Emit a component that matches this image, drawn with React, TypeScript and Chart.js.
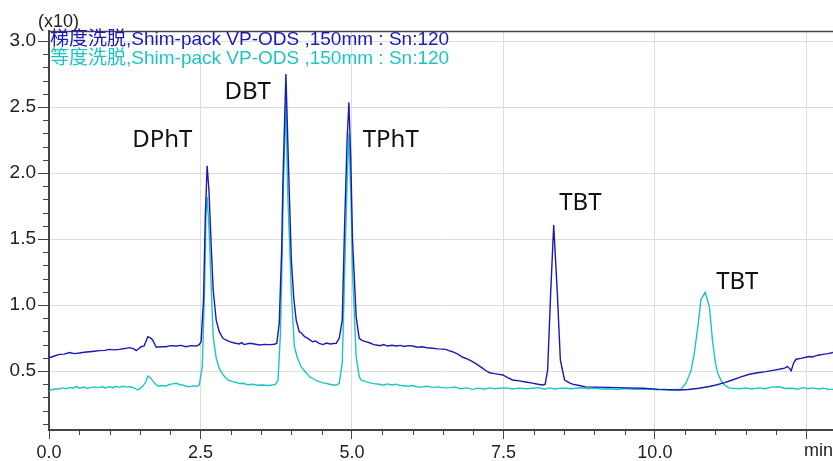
import React, { useEffect, useRef } from 'react';
import { Chart, registerables } from 'chart.js';

Chart.register(...registerables);

// Gradient elution (blue) trace: time (min) and signal (x10)
const gradientTimes = [
  0.00, 0.08, 0.17, 0.25, 0.34, 0.42, 0.50, 0.58, 0.67, 0.75, 0.83, 0.92, 1.00, 1.08, 1.16, 1.25, 1.33, 1.40, 1.44, 1.48,
  1.52, 1.57, 1.63, 1.68, 1.71, 1.77, 1.85, 1.93, 2.01, 2.10, 2.18, 2.26, 2.35, 2.43, 2.48, 2.51, 2.55, 2.58, 2.61, 2.64,
  2.68, 2.71, 2.76, 2.81, 2.87, 2.92, 2.98, 3.06, 3.14, 3.18, 3.22, 3.31, 3.39, 3.47, 3.56, 3.64, 3.72, 3.76, 3.80, 3.84,
  3.86, 3.91, 3.95, 4.00, 4.04, 4.08, 4.13, 4.16, 4.22, 4.28, 4.35, 4.40, 4.46, 4.52, 4.58, 4.64, 4.70, 4.74, 4.79, 4.84,
  4.88, 4.92, 4.95, 4.98, 5.01, 5.07, 5.12, 5.17, 5.23, 5.30, 5.36, 5.40, 5.47, 5.52, 5.59, 5.66, 5.73, 5.80, 5.86, 5.93,
  6.00, 6.08, 6.16, 6.24, 6.33, 6.42, 6.50, 6.55, 6.60, 6.66, 6.74, 6.83, 6.91, 6.99, 7.07, 7.16, 7.22, 7.27, 7.35, 7.43,
  7.49, 7.57, 7.65, 7.76, 7.87, 7.98, 8.07, 8.15, 8.19, 8.23, 8.28, 8.33, 8.39, 8.44, 8.51, 8.59, 8.64, 8.75, 8.86, 9.00,
  9.25, 9.50, 9.80, 10.07, 10.25, 10.40, 10.55, 10.73, 10.90, 11.01, 11.15, 11.28, 11.42, 11.56, 11.70, 11.83, 11.95, 12.05, 12.14, 12.19,
  12.22, 12.25, 12.29, 12.33, 12.41, 12.49, 12.55, 12.60, 12.65, 12.71, 12.80, 12.86, 12.94,
];
const gradientValues = [
  0.600, 0.612, 0.626, 0.628, 0.640, 0.632, 0.636, 0.642, 0.646, 0.650, 0.654, 0.656, 0.664, 0.660, 0.664, 0.670, 0.677, 0.668, 0.654, 0.668,
  0.684, 0.690, 0.760, 0.750, 0.735, 0.680, 0.684, 0.684, 0.692, 0.689, 0.694, 0.684, 0.692, 0.689, 0.700, 0.722, 1.040, 1.670, 2.055, 1.870,
  1.417, 1.114, 0.886, 0.798, 0.748, 0.735, 0.722, 0.712, 0.705, 0.715, 0.700, 0.710, 0.705, 0.697, 0.702, 0.700, 0.703, 0.710, 0.861, 1.417,
  1.920, 2.750, 2.100, 1.340, 1.050, 0.886, 0.798, 0.790, 0.760, 0.745, 0.722, 0.728, 0.710, 0.700, 0.712, 0.705, 0.708, 0.710, 0.748, 0.886,
  1.620, 2.250, 2.535, 2.120, 1.490, 0.910, 0.748, 0.730, 0.722, 0.712, 0.700, 0.697, 0.692, 0.700, 0.689, 0.695, 0.689, 0.694, 0.686, 0.692,
  0.689, 0.680, 0.684, 0.676, 0.672, 0.668, 0.666, 0.664, 0.655, 0.646, 0.630, 0.604, 0.590, 0.571, 0.548, 0.520, 0.500, 0.487, 0.480, 0.474,
  0.470, 0.450, 0.432, 0.425, 0.417, 0.408, 0.400, 0.394, 0.400, 0.508, 1.090, 1.606, 1.090, 0.583, 0.432, 0.410, 0.400, 0.390, 0.380, 0.378,
  0.376, 0.372, 0.369, 0.361, 0.358, 0.356, 0.360, 0.369, 0.383, 0.394, 0.412, 0.432, 0.455, 0.475, 0.487, 0.495, 0.505, 0.513, 0.522, 0.533,
  0.520, 0.502, 0.560, 0.589, 0.596, 0.604, 0.610, 0.606, 0.615, 0.621, 0.628, 0.632, 0.640,
];

// Isocratic elution (cyan) trace
const isocraticTimes = [
  0.00, 0.05, 0.10, 0.17, 0.22, 0.28, 0.34, 0.40, 0.45, 0.50, 0.58, 0.63, 0.67, 0.75, 0.83, 0.88, 0.92, 1.00, 1.05, 1.10,
  1.16, 1.22, 1.28, 1.33, 1.40, 1.47, 1.51, 1.55, 1.60, 1.63, 1.67, 1.71, 1.76, 1.80, 1.86, 1.93, 1.98, 2.04, 2.10, 2.16,
  2.22, 2.26, 2.32, 2.38, 2.43, 2.48, 2.53, 2.57, 2.59, 2.61, 2.64, 2.68, 2.71, 2.76, 2.81, 2.86, 2.90, 2.96, 3.03, 3.08,
  3.14, 3.20, 3.28, 3.36, 3.44, 3.53, 3.61, 3.69, 3.74, 3.78, 3.82, 3.85, 3.87, 3.91, 3.94, 4.00, 4.05, 4.10, 4.16, 4.22,
  4.30, 4.35, 4.40, 4.46, 4.52, 4.57, 4.63, 4.68, 4.74, 4.79, 4.84, 4.88, 4.92, 4.95, 4.98, 5.01, 5.07, 5.12, 5.15, 5.23,
  5.30, 5.36, 5.45, 5.52, 5.58, 5.66, 5.72, 5.78, 5.86, 5.93, 6.00, 6.06, 6.15, 6.24, 6.33, 6.42, 6.52, 6.61, 6.70, 6.80,
  6.90, 6.99, 7.08, 7.18, 7.28, 7.36, 7.43, 7.55, 7.65, 7.76, 7.87, 7.98, 8.08, 8.18, 8.26, 8.35, 8.45, 8.53, 8.62, 8.70,
  8.80, 8.90, 9.00, 9.12, 9.25, 9.38, 9.50, 9.65, 9.80, 9.92, 10.05, 10.15, 10.24, 10.33, 10.43, 10.51, 10.56, 10.60, 10.65, 10.71,
  10.76, 10.83, 10.90, 10.95, 11.00, 11.04, 11.10, 11.15, 11.22, 11.28, 11.40, 11.50, 11.60, 11.72, 11.82, 11.92, 12.05, 12.15, 12.27, 12.36,
  12.45, 12.52, 12.60, 12.70, 12.78, 12.86, 12.94,
];
const isocraticValues = [
  0.345, 0.360, 0.364, 0.364, 0.372, 0.366, 0.374, 0.370, 0.384, 0.370, 0.378, 0.368, 0.372, 0.380, 0.374, 0.382, 0.372, 0.381, 0.372, 0.384,
  0.376, 0.384, 0.378, 0.382, 0.372, 0.356, 0.372, 0.386, 0.420, 0.462, 0.450, 0.427, 0.400, 0.386, 0.390, 0.386, 0.396, 0.402, 0.407, 0.396,
  0.392, 0.386, 0.380, 0.388, 0.382, 0.394, 0.533, 1.160, 1.670, 1.820, 1.590, 1.110, 0.760, 0.596, 0.520, 0.480, 0.457, 0.430, 0.419, 0.415,
  0.405, 0.407, 0.396, 0.400, 0.392, 0.394, 0.390, 0.394, 0.400, 0.432, 0.785, 1.417, 1.920, 2.530, 1.846, 1.090, 0.684, 0.600, 0.533, 0.500,
  0.457, 0.445, 0.430, 0.419, 0.410, 0.407, 0.400, 0.394, 0.394, 0.407, 0.558, 1.240, 1.920, 2.300, 1.870, 1.240, 0.608, 0.457, 0.432, 0.419,
  0.410, 0.404, 0.400, 0.392, 0.402, 0.394, 0.400, 0.392, 0.388, 0.384, 0.390, 0.381, 0.378, 0.384, 0.376, 0.380, 0.372, 0.374, 0.378, 0.366,
  0.372, 0.361, 0.370, 0.364, 0.372, 0.366, 0.369, 0.372, 0.364, 0.370, 0.366, 0.369, 0.374, 0.362, 0.372, 0.364, 0.370, 0.369, 0.366, 0.369,
  0.373, 0.366, 0.370, 0.364, 0.366, 0.360, 0.367, 0.362, 0.361, 0.364, 0.358, 0.362, 0.356, 0.360, 0.361, 0.407, 0.460, 0.508, 0.634, 0.836,
  1.040, 1.096, 0.987, 0.735, 0.560, 0.480, 0.420, 0.394, 0.372, 0.369, 0.366, 0.372, 0.364, 0.372, 0.366, 0.378, 0.381, 0.368, 0.369, 0.362,
  0.374, 0.366, 0.372, 0.364, 0.370, 0.362, 0.361,
];

const seriesNames = [
  '梯度洗脱,Shim-pack VP-ODS ,150mm : Sn:120',
  '等度洗脱,Shim-pack VP-ODS ,150mm : Sn:120',
];

const xTickValues = [0, 2.5, 5.0, 7.5, 10.0, 12.5];
const yTickValues = [0.5, 1.0, 1.5, 2.0, 2.5, 3.0];

const peakLabels = ['DPhT', 'DBT', 'TPhT', 'TBT', 'TBT'];
const peakLabelTimes = [1.87, 3.28, 5.64, 8.77, 11.36];
const peakLabelValues = [2.25, 2.61, 2.25, 1.77, 1.17];

const X_MIN = 0;
const X_MAX = 12.94;
const Y_MIN = 0.053;
const Y_MAX = 3.076;

const BLUE = '#1a1ab4';
const CYAN = '#1ec4c4';
const AXIS = '#444444';
const GRID = '#dddddd';
const FONT = '"Liberation Sans", "Noto Sans CJK SC", sans-serif';
const LABEL_FONT = '"Noto Sans", "Open Sans", sans-serif';

const decorPlugin = {
  id: 'decor',
  afterDatasetsDraw(chart: any) {
    const { ctx, chartArea, scales } = chart;
    const xs = scales.x;
    const ys = scales.y;
    ctx.save();
    // minor ticks
    ctx.strokeStyle = AXIS;
    ctx.lineWidth = 1;
    ctx.beginPath();
    for (let i = 1; i <= 30; i++) {
      const v = i / 10;
      if (i % 5 === 0) continue;
      const py = Math.round(ys.getPixelForValue(v)) + 0.5;
      ctx.moveTo(chartArea.left - 6, py);
      ctx.lineTo(chartArea.left, py);
    }
    for (let i = 1; i <= 25; i++) {
      const v = i / 2;
      if (i % 5 === 0) continue;
      const px = Math.round(xs.getPixelForValue(v)) + 0.5;
      ctx.moveTo(px, chartArea.bottom);
      ctx.lineTo(px, chartArea.bottom + 5);
    }
    ctx.stroke();
    // top border
    ctx.beginPath();
    ctx.lineWidth = 1.5;
    ctx.moveTo(chartArea.left, chartArea.top + 0.5);
    ctx.lineTo(chartArea.right, chartArea.top + 0.5);
    ctx.stroke();

    // legend text
    ctx.font = `19px ${FONT}`;
    ctx.textAlign = 'left';
    ctx.textBaseline = 'middle';
    ctx.fillStyle = BLUE;
    ctx.fillText(seriesNames[0], chartArea.left + 1, 40);
    ctx.fillStyle = CYAN;
    ctx.fillText(seriesNames[1], chartArea.left + 1, 58.5);

    // peak labels
    ctx.font = `24px ${LABEL_FONT}`;
    ctx.fillStyle = '#111111';
    ctx.textAlign = 'center';
    for (let i = 0; i < peakLabels.length; i++) {
      ctx.fillText(peakLabels[i], xs.getPixelForValue(peakLabelTimes[i]), ys.getPixelForValue(peakLabelValues[i]));
    }

    // unit labels
    ctx.font = `18px ${FONT}`;
    ctx.fillStyle = '#222222';
    ctx.textAlign = 'left';
    ctx.fillText('(x10)', 38, 22);
    ctx.textAlign = 'right';
    ctx.textBaseline = 'top';
    ctx.fillText('min', chart.width, chartArea.bottom + 12);
    ctx.restore();
  },
};

export default function App() {
  const ref = useRef<HTMLCanvasElement>(null);
  useEffect(() => {
    if (!ref.current) return;
    const chart = new Chart(ref.current, {
      type: 'line',
      data: {
        datasets: [
          {
            label: seriesNames[0],
            data: gradientTimes.map((t, i) => ({ x: t, y: gradientValues[i] })),
            borderColor: BLUE,
            borderWidth: 1.4,
            pointRadius: 0,
            tension: 0,
            fill: false,
          },
          {
            label: seriesNames[1],
            data: isocraticTimes.map((t, i) => ({ x: t, y: isocraticValues[i] })),
            borderColor: CYAN,
            borderWidth: 1.4,
            pointRadius: 0,
            tension: 0,
            fill: false,
          },
        ],
      },
      options: {
        responsive: false,
        animation: false,
        events: [],
        layout: { padding: { top: 31, right: 0, left: 0, bottom: 0 } },
        plugins: { legend: { display: false }, tooltip: { enabled: false } },
        scales: {
          x: {
            type: 'linear',
            min: X_MIN,
            max: X_MAX,
            afterBuildTicks: (s: any) => {
              s.ticks = xTickValues.map((v) => ({ value: v }));
            },
            afterFit: (s: any) => {
              s.height = 31;
            },
            ticks: {
              autoSkip: false,
              maxRotation: 0,
              padding: 3,
              color: '#222222',
              font: { family: FONT, size: 18 },
              callback: (v: any) => (Number(v) === 12.5 ? '' : Number(v).toFixed(1)),
            },
            grid: { color: GRID, tickColor: AXIS, tickLength: 9, lineWidth: 1 },
            border: { color: AXIS, width: 2 },
          },
          y: {
            type: 'linear',
            min: Y_MIN,
            max: Y_MAX,
            afterBuildTicks: (s: any) => {
              s.ticks = yTickValues.map((v) => ({ value: v }));
            },
            afterFit: (s: any) => {
              s.width = 49;
            },
            ticks: {
              padding: 2,
              color: '#222222',
              font: { family: FONT, size: 19 },
              callback: (v: any) => Number(v).toFixed(1),
            },
            grid: { color: GRID, tickColor: AXIS, tickLength: 11, lineWidth: 1 },
            border: { color: AXIS, width: 2 },
          },
        },
      },
      plugins: [decorPlugin],
    } as any);
    return () => chart.destroy();
  }, []);
  return (
    <div style={{ position: 'fixed', left: 0, top: 0, width: 833, height: 461, background: '#ffffff' }}>
      <canvas ref={ref} width={833} height={461} style={{ width: 833, height: 461, display: 'block' }} />
    </div>
  );
}
